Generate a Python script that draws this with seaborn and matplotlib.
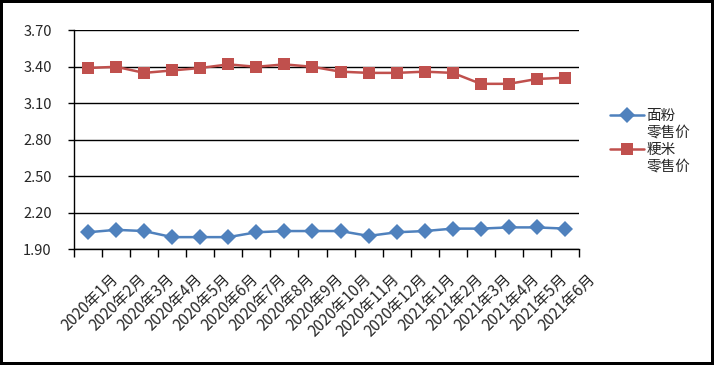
import matplotlib
matplotlib.use('Agg')
import matplotlib.pyplot as plt
import matplotlib.transforms as mtransforms
from matplotlib.lines import Line2D
from matplotlib.ticker import FixedLocator, NullFormatter
import seaborn as sns
import pandas as pd

months = ['2020年1月', '2020年2月', '2020年3月', '2020年4月', '2020年5月', '2020年6月',
          '2020年7月', '2020年8月', '2020年9月', '2020年10月', '2020年11月', '2020年12月',
          '2021年1月', '2021年2月', '2021年3月', '2021年4月', '2021年5月', '2021年6月']
flour = [2.04, 2.06, 2.05, 2.00, 2.00, 2.00, 2.04, 2.05, 2.05, 2.05, 2.01, 2.04,
         2.05, 2.07, 2.07, 2.08, 2.08, 2.07]
rice = [3.39, 3.40, 3.35, 3.37, 3.39, 3.42, 3.40, 3.42, 3.40, 3.36, 3.35, 3.35,
        3.36, 3.35, 3.26, 3.26, 3.30, 3.31]
series_names = ['面粉零售价', '粳米零售价']
legend_lines = [['面粉', '零售价'], ['粳米', '零售价']]
y_ticks = [1.90, 2.20, 2.50, 2.80, 3.10, 3.40, 3.70]

colors = ['#4F81BD', '#C0504D']
markers = ['D', 's']
marker_sizes = [8.5, 9.0]

sns.set_style('white')
plt.rcParams['font.family'] = ['Noto Sans CJK SC', 'DejaVu Sans']

df = pd.DataFrame({
    'month': months * 2,
    'price': flour + rice,
    'series': [series_names[0]] * len(months) + [series_names[1]] * len(months),
})

fig = plt.figure(figsize=(7.14, 3.65), dpi=100)
fig.patch.set_edgecolor('black')
fig.patch.set_linewidth(3)
ax = fig.add_axes([74 / 714, 1 - 249.3 / 365, (579 - 74) / 714, (249.3 - 30.3) / 365])

sns.lineplot(data=df, x='month', y='price', hue='series', style='series',
             palette=dict(zip(series_names, colors)),
             markers=dict(zip(series_names, markers)),
             dashes=False, sort=False, linewidth=1.8, markeredgewidth=0,
             ax=ax)
for line, ms in zip(ax.lines, marker_sizes):
    line.set_markersize(ms)

ax.set_ylim(1.90, 3.70)
ax.set_yticks(y_ticks)
ax.set_yticklabels([f'{v:.2f}' for v in y_ticks])
ax.set_xlim(-0.5, len(months) - 0.5)
ax.set_xlabel('')
ax.set_ylabel('')
ax.grid(axis='y', color='black', linewidth=1.0)
ax.set_axisbelow(True)
for s in ['top', 'right']:
    ax.spines[s].set_visible(False)
for s in ['left', 'bottom']:
    ax.spines[s].set_color('black')
    ax.spines[s].set_linewidth(1.0)

ax.tick_params(axis='y', which='major', direction='out', length=4, width=1,
               color='black', labelsize=10.5, pad=12, left=True)
ax.xaxis.set_minor_locator(FixedLocator([i - 0.5 for i in range(len(months) + 1)]))
ax.xaxis.set_minor_formatter(NullFormatter())
ax.tick_params(axis='x', which='minor', direction='out', length=6, width=1,
               color='black', bottom=True)
ax.tick_params(axis='x', which='major', length=0, labelsize=11, pad=0)
offset = mtransforms.ScaledTranslation(28 / 100, -27 / 100, fig.dpi_scale_trans)
for lab in ax.get_xticklabels():
    lab.set_rotation(45)
    lab.set_ha('right')
    lab.set_va('center')
    lab.set_rotation_mode('anchor')
    lab.set_transform(lab.get_transform() + offset)

handles, labels = ax.get_legend_handles_labels()
ax.get_legend().remove()
for h, ms in zip(handles, marker_sizes):
    h.set_markersize(ms)
    h.set_markeredgewidth(0)
    h.set_linewidth(1.8)
blank = Line2D([], [], color='none')
leg_handles = [handles[0], blank, handles[1], blank]
leg_labels = [legend_lines[0][0], legend_lines[0][1], legend_lines[1][0], legend_lines[1][1]]
leg = fig.legend(leg_handles, leg_labels, loc='upper left',
                 bbox_to_anchor=(610 / 714, 1 - 109 / 365), frameon=False,
                 fontsize=10.5, handlelength=2.3, handletextpad=0.2,
                 labelspacing=0.2, borderpad=0, borderaxespad=0)

fig.savefig('out.png', dpi=100)
